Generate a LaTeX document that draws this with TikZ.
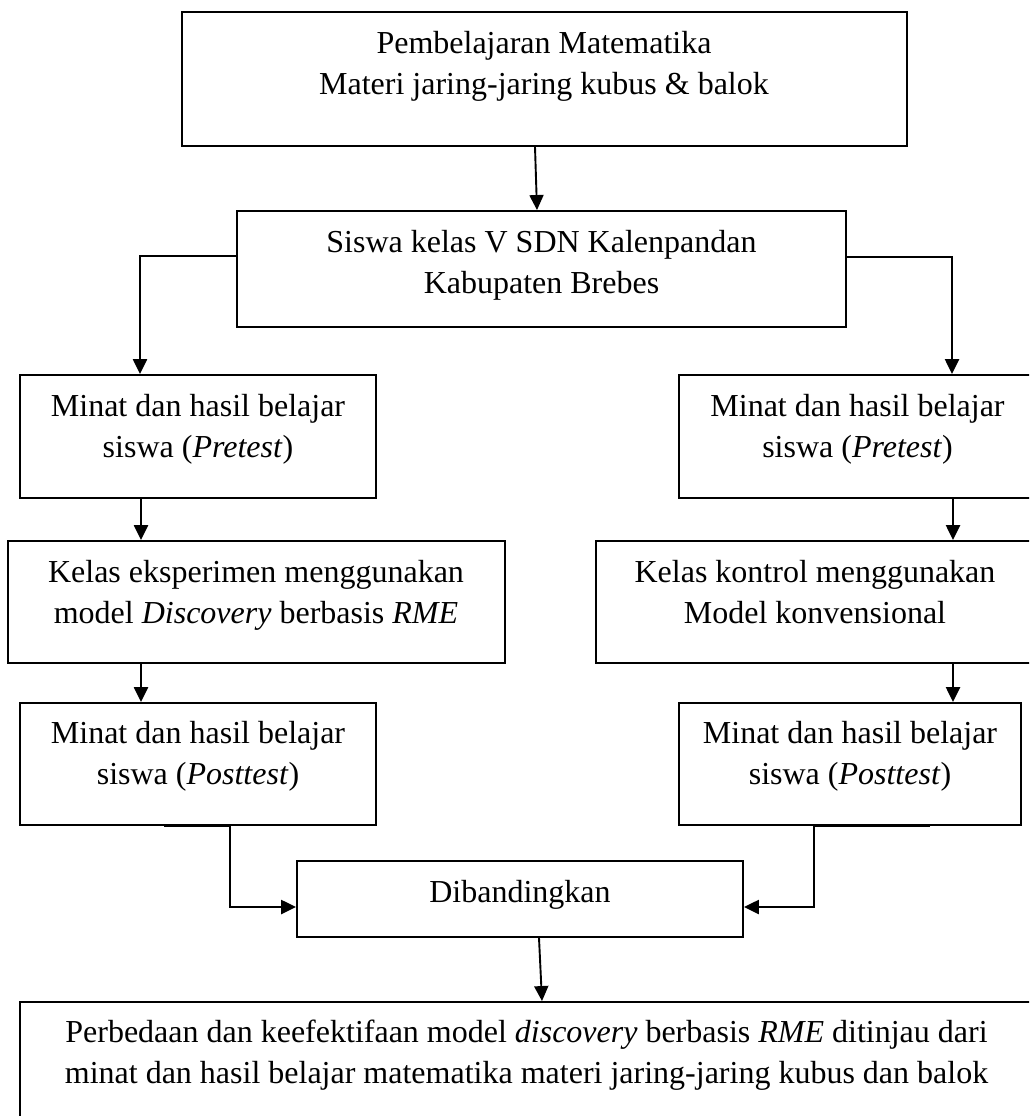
\documentclass[tikz,border=0pt]{standalone}
\usepackage{fontspec}
\setmainfont{Liberation Serif}
\usetikzlibrary{arrows.meta}
\begin{document}
\begin{tikzpicture}[x=1pt,y=-1pt,
  box/.style={draw, line width=1.9pt, inner sep=0pt, rectangle},
  txt/.style={font=\fontsize{32}{41}\selectfont, align=center, anchor=base, inner sep=0pt},
  conn/.style={line width=2.4pt},
  arr/.style={conn, -{Triangle[length=15pt,width=14pt]}}]
\clip (0,0) rectangle (1029,1116);
% boxes
\node[box, minimum width=725pt, minimum height=134pt] (b1) at (544.5,79) {};
\node[box, minimum width=609pt, minimum height=116pt] (b2) at (541.5,269) {};
\node[box, minimum width=356pt, minimum height=123pt] (pl) at (198,436.5) {};
\node[box, minimum width=357pt, minimum height=123pt] (pr) at (857.5,436.5) {};
\node[box, minimum width=497pt, minimum height=122pt] (kl) at (256.5,602) {};
\node[box, minimum width=438pt, minimum height=122pt] (kr) at (815,602) {};
\node[box, minimum width=356pt, minimum height=122pt] (ql) at (198,764) {};
\node[box, minimum width=342pt, minimum height=122pt] (qr) at (850,764) {};
\node[box, minimum width=446pt, minimum height=76pt] (d) at (520,899) {};
\node[box, minimum width=1013pt, minimum height=140pt] (f) at (526.5,1072) {};
% texts (anchor base = baseline of the last line)
\node[txt] (t1) at (544,95) {Pembelajaran Matematika\\Materi jaring-jaring kubus \& balok};
\node[txt] (t2) at (541.5,293) {Siswa kelas V SDN Kalenpandan\\Kabupaten Brebes};
\node[txt] (tpl) at (198,457) {Minat dan hasil belajar\\siswa (\textit{Pretest})};
\node[txt] (tpr) at (857.5,457) {Minat dan hasil belajar\\siswa (\textit{Pretest})};
\node[txt] (tkl) at (256,623) {Kelas eksperimen menggunakan\\model \textit{Discovery} berbasis \textit{RME}};
\node[txt] (tkr) at (815,623) {Kelas kontrol menggunakan\\Model konvensional};
\node[txt] (tql) at (198,784) {Minat dan hasil belajar\\siswa (\textit{Posttest})};
\node[txt] (tqr) at (850,784) {Minat dan hasil belajar\\siswa (\textit{Posttest})};
\node[txt] (td) at (520,902) {Dibandingkan};
\node[txt] (tf) at (526.5,1083) {Perbedaan dan keefektifaan model \textit{discovery} berbasis \textit{RME} ditinjau dari\\minat dan hasil belajar matematika materi jaring-jaring kubus dan balok};
% connectors
\draw[arr, line width=1.9pt] ([xshift=-9.5pt]b1.south) -- ([xshift=-4.5pt]b2.north);
\draw[arr] ([yshift=13pt]b2.west) -| ([xshift=-58pt]pl.north);
\draw[arr] ([yshift=12pt]b2.east) -| ([xshift=94.5pt]pr.north);
\draw[arr] ([xshift=-57pt]pl.south) -- ([xshift=-115.5pt]kl.north);
\draw[arr] ([xshift=-115.5pt]kl.south) -- ([xshift=-57pt]ql.north);
\draw[arr] ([xshift=95.5pt]pr.south) -- ([xshift=138pt]kr.north);
\draw[arr] ([xshift=138pt]kr.south) -- ([xshift=103pt]qr.north);
\draw[arr] ([xshift=-34pt]ql.south) -- ([xshift=32pt]ql.south) |- ([yshift=-8pt]d.west);
\draw[arr] ([xshift=80pt]qr.south) -- ([xshift=-36pt]qr.south) |- ([yshift=-8pt]d.east);
\draw[arr, line width=1.9pt] ([xshift=19pt]d.south) -- ([xshift=15.5pt]f.north);
\end{tikzpicture}
\end{document}
